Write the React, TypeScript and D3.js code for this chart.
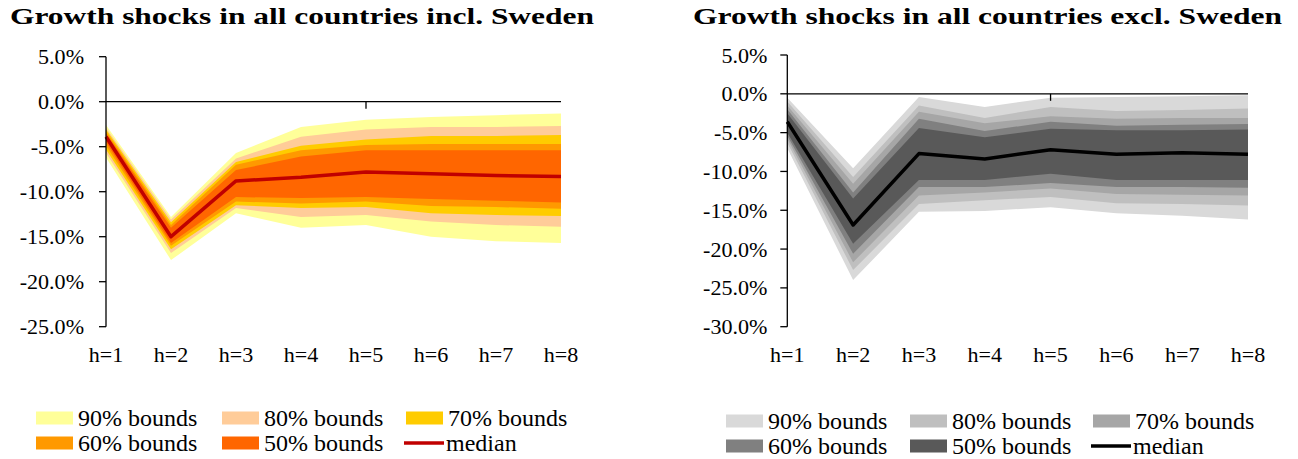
import * as d3 from 'd3';

const horizons = ['h=1', 'h=2', 'h=3', 'h=4', 'h=5', 'h=6', 'h=7', 'h=8'];

// growth shocks incl. Sweden (percent)
const inclMedian = [-3.9, -15.0, -8.8, -8.4, -7.8, -8.0, -8.2, -8.3];
const incl90 = { upper: [-2.6, -12.8, -5.7, -2.8, -2.0, -1.7, -1.5, -1.3], lower: [-6.2, -17.6, -12.4, -14.0, -13.7, -15.0, -15.5, -15.7] };
const incl80 = { upper: [-2.9, -13.1, -6.3, -3.9, -3.1, -2.8, -2.8, -2.7], lower: [-5.7, -16.8, -11.8, -12.8, -12.6, -13.3, -13.7, -13.9] };
const incl70 = { upper: [-3.1, -13.4, -6.7, -4.9, -4.2, -3.8, -3.8, -3.7], lower: [-5.3, -16.4, -11.5, -11.8, -11.7, -12.4, -12.6, -12.7] };
const incl60 = { upper: [-3.3, -13.7, -7.0, -5.4, -4.8, -4.7, -4.7, -4.7], lower: [-4.9, -16.0, -11.1, -11.3, -11.1, -11.6, -11.7, -11.9] };
const incl50 = { upper: [-3.5, -14.0, -7.6, -6.1, -5.4, -5.4, -5.4, -5.4], lower: [-4.5, -15.7, -10.6, -10.7, -10.6, -10.8, -11.0, -11.2] };

// growth shocks excl. Sweden (percent)
const exclMedian = [-3.6, -16.9, -7.7, -8.4, -7.2, -7.8, -7.6, -7.8];
const excl90 = { upper: [-0.5, -9.6, -0.4, -1.7, -0.5, -0.4, -0.3, -0.2], lower: [-7.0, -24.0, -15.2, -15.1, -14.6, -15.4, -15.7, -16.2] };
const excl80 = { upper: [-1.0, -10.7, -1.5, -3.1, -1.7, -2.2, -2.1, -1.9], lower: [-6.3, -22.7, -14.2, -13.7, -13.3, -14.1, -14.2, -14.4] };
const excl70 = { upper: [-1.5, -11.6, -2.3, -3.8, -2.9, -3.2, -3.1, -3.1], lower: [-5.8, -21.7, -13.1, -12.7, -12.2, -12.9, -13.0, -13.1] };
const excl60 = { upper: [-2.0, -12.7, -3.2, -4.8, -3.6, -4.1, -4.0, -3.9], lower: [-5.4, -20.6, -12.0, -12.0, -11.5, -12.0, -12.0, -12.1] };
const excl50 = { upper: [-2.5, -13.5, -4.4, -5.6, -4.5, -4.7, -4.7, -4.6], lower: [-5.0, -19.3, -11.1, -11.1, -10.3, -11.1, -11.1, -11.1] };

const bandLabels = ['90% bounds', '80% bounds', '70% bounds', '60% bounds', '50% bounds'];
const inclColors = ['#FFFF99', '#FFCC99', '#FFCC00', '#FF9900', '#FF6600'];
const exclColors = ['#D9D9D9', '#BFBFBF', '#A6A6A6', '#808080', '#595959'];

const inclTicks = [5, 0, -5, -10, -15, -20, -25];
const exclTicks = [5, 0, -5, -10, -15, -20, -25, -30];

const serif = 'Liberation Serif';

interface Band { upper: number[]; lower: number[] }

interface PanelProps {
  title: string;
  titleX: number;
  titleW: number;
  left: number;
  right: number;
  top: number;
  bottom: number;
  ticks: number[];
  bands: Band[];
  colors: string[];
  median: number[];
  medianColor: string;
  labelGap: number;
  legendX: number[];
  legendY: number[];
}

const Panel = (p: PanelProps) => {
  const x = d3.scalePoint<string>().domain(horizons).range([p.left, p.right]);
  const y = d3.scaleLinear()
    .domain([p.ticks[p.ticks.length - 1], p.ticks[0]])
    .range([p.bottom, p.top]);

  const xi = (i: number) => x(horizons[i]) as number;
  const line = d3.line<number>().x((_, i) => xi(i)).y(d => y(d));

  const items = [
    ...bandLabels.map((l, k) => ({ label: l, color: p.colors[k], isLine: false })),
    { label: 'median', color: p.medianColor, isLine: true },
  ];

  return (
    <g>
      <text x={p.titleX} y={24} fontFamily={serif} fontWeight="bold" fontSize={24}
        textLength={p.titleW} lengthAdjust="spacingAndGlyphs">{p.title}</text>

      {/* fan bands, outer first */}
      {p.bands.map((b, k) => {
        const area = d3.area<number>()
          .x((_, i) => xi(i))
          .y0((_, i) => y(b.lower[i]))
          .y1((_, i) => y(b.upper[i]));
        return <path key={k} d={area(b.upper) ?? ''} fill={p.colors[k]} />;
      })}

      <path d={line(p.median) ?? ''} fill="none" stroke={p.medianColor} strokeWidth={3.5} strokeLinejoin="round" />

      {/* zero line and its tick */}
      <line x1={p.left} x2={p.right} y1={y(0)} y2={y(0)} stroke="#000" strokeWidth={1.3} />
      <line x1={x('h=5')} x2={x('h=5')} y1={y(0)} y2={y(0) + 7} stroke="#000" strokeWidth={1.3} />

      {/* y axis */}
      <line x1={p.left} x2={p.left} y1={y(p.ticks[0])} y2={y(p.ticks[p.ticks.length - 1])} stroke="#000" strokeWidth={1.3} />
      {p.ticks.map(t => (
        <g key={t}>
          <line x1={p.left - 7} x2={p.left} y1={y(t)} y2={y(t)} stroke="#000" strokeWidth={1.3} />
          <g transform={`translate(${p.left - p.labelGap},${y(t) + 7.5}) scale(1.05,1)`}>
            <text textAnchor="end" fontFamily={serif} fontSize={21}>{`${t.toFixed(1)}%`}</text>
          </g>
        </g>
      ))}

      {horizons.map(h => (
        <g key={h} transform={`translate(${x(h)},362) scale(1.05,1)`}>
          <text textAnchor="middle" fontFamily={serif} fontSize={21}>{h}</text>
        </g>
      ))}

      {/* legend */}
      {items.map((it, k) => {
        const lx = p.legendX[k % 3];
        const ly = p.legendY[Math.floor(k / 3)];
        return (
          <g key={it.label}>
            {it.isLine
              ? <line x1={lx - 2} x2={lx + 38} y1={ly} y2={ly} stroke={it.color} strokeWidth={3.5} />
              : <rect x={lx} y={ly - 6.5} width={37} height={13} fill={it.color} />}
            <text x={lx + (it.isLine ? 40 : 42)} y={ly + 7.5} fontFamily={serif} fontSize={24}>{it.label}</text>
          </g>
        );
      })}
    </g>
  );
};

export default function App() {
  return (
    <div style={{ position: 'absolute', left: 0, top: 0, background: '#fff' }}>
      <svg width={1298} height={459} style={{ display: 'block' }}>
        <Panel
          title="Growth shocks in all countries incl. Sweden"
          titleX={10} titleW={584}
          left={106} right={561} top={56.7} bottom={326.7}
          ticks={inclTicks}
          bands={[incl90, incl80, incl70, incl60, incl50]}
          colors={inclColors}
          median={inclMedian}
          medianColor="#C00000"
          labelGap={22}
          legendX={[36, 222, 406]}
          legendY={[418, 443]}
        />
        <Panel
          title="Growth shocks in all countries excl. Sweden"
          titleX={693} titleW={589}
          left={787.3} right={1248} top={55} bottom={326.7}
          ticks={exclTicks}
          bands={[excl90, excl80, excl70, excl60, excl50]}
          colors={exclColors}
          median={exclMedian}
          medianColor="#000000"
          labelGap={20}
          legendX={[726, 910, 1093]}
          legendY={[421, 446]}
        />
      </svg>
    </div>
  );
}
